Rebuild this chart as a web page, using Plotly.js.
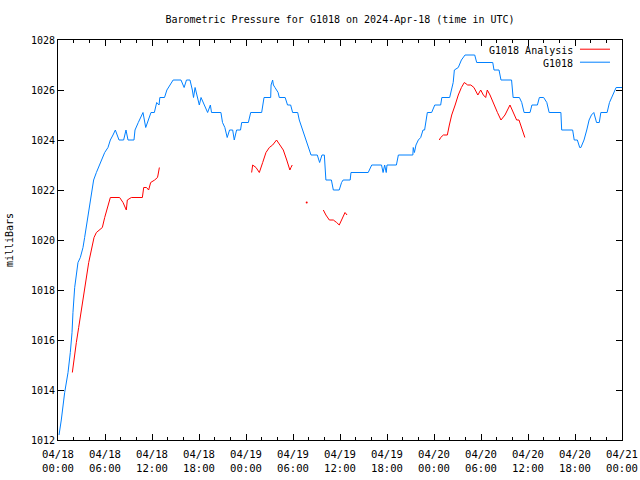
<!DOCTYPE html>
<html>
<head>
<meta charset="utf-8">
<script src="https://cdn.plot.ly/plotly-3.0.1.min.js"></script>
<style>html,body{margin:0;padding:0;background:#fff;}#chart{width:640px;height:480px;}</style>
</head>
<body>
<div id="chart"></div>
<script>
// Hours since 2024-04-18 00:00 UTC
var blueHours = [0.13,0.42,0.85,1.28,1.57,1.79,1.91,2.13,2.34,2.55,2.85,3.19,3.4,3.7,3.96,4.26,4.55,4.9,5.32,5.74,5.96,6.38,6.68,7.02,7.32,7.79,8.38,8.68,8.94,9.7,9.83,10.25,10.6,10.85,11.2,11.45,11.87,12.3,12.6,12.9,13.0,13.6,13.9,14.3,14.7,15.7,16.1,16.4,16.85,17.15,17.3,17.5,17.75,18.04,18.26,18.55,18.85,19.1,19.45,19.6,20.8,21.0,21.3,21.6,21.9,22.3,22.5,22.8,23.3,23.45,24.3,24.6,26.0,26.3,27.15,27.2,27.4,27.5,27.7,27.95,28.1,28.25,29.0,29.3,29.7,29.95,30.6,30.8,31.1,31.4,31.66,31.95,32.3,33.1,33.4,33.7,34.0,34.2,34.9,35.15,35.9,36.2,36.4,37.3,37.4,39.6,40.05,41.3,41.5,41.7,41.9,42.0,43.2,43.45,45.3,45.35,45.5,45.7,46.0,46.3,46.6,46.8,47.15,47.7,48.1,48.85,49.0,50.0,50.25,50.45,50.6,51.1,51.5,51.96,53.2,53.45,55.5,55.66,56.3,56.55,57.9,58.1,58.9,59.2,59.5,60.26,60.5,61.2,61.45,62.0,62.4,62.7,64.2,64.3,65.7,65.9,66.3,66.6,66.75,67.15,67.5,67.8,68.1,68.4,68.75,69.1,69.3,70.1,70.4,70.7,71.0,71.25,72.0];
var blueValues = [1012.2,1012.8,1013.9,1014.7,1015.5,1016.3,1017.1,1018.1,1018.6,1019.1,1019.3,1019.7,1020.1,1020.7,1021.3,1022.0,1022.4,1022.7,1023.0,1023.3,1023.5,1023.7,1024.0,1024.2,1024.4,1024.0,1024.0,1024.4,1024.0,1024.0,1024.4,1024.7,1024.9,1025.1,1024.5,1024.7,1025.1,1025.1,1025.5,1025.4,1025.7,1025.7,1026.0,1026.2,1026.4,1026.4,1026.1,1026.4,1026.4,1026.0,1025.7,1026.1,1025.8,1025.4,1025.7,1025.5,1025.3,1025.1,1025.4,1025.1,1025.1,1024.7,1024.5,1024.1,1024.4,1024.4,1024.0,1024.4,1024.4,1024.7,1024.7,1025.1,1025.1,1025.7,1025.7,1026.2,1026.4,1026.2,1026.1,1026.0,1025.9,1025.7,1025.7,1025.4,1025.4,1025.1,1025.1,1024.8,1024.5,1024.3,1024.0,1023.7,1023.4,1023.4,1023.1,1023.4,1023.4,1022.4,1022.4,1022.0,1022.0,1022.3,1022.4,1022.4,1022.7,1022.7,1023.0,1023.0,1022.7,1023.0,1022.7,1023.0,1023.0,1023.4,1023.4,1023.7,1023.5,1023.8,1024.0,1024.1,1024.4,1024.4,1025.1,1025.1,1025.4,1025.4,1025.7,1025.7,1026.1,1026.3,1026.8,1026.9,1027.2,1027.4,1027.4,1027.1,1027.1,1026.8,1026.8,1026.4,1026.4,1025.7,1025.7,1025.5,1025.1,1025.1,1025.4,1025.4,1025.7,1025.7,1025.5,1025.1,1025.1,1024.4,1024.4,1024.0,1024.0,1023.7,1023.7,1024.0,1024.4,1024.8,1025.0,1025.1,1024.7,1024.7,1025.1,1025.1,1025.5,1025.7,1025.9,1026.1,1026.1];

var redHours = [1.83,2.04,2.34,2.64,2.98,3.32,3.62,3.92,4.26,4.6,4.9,5.3,5.66,5.96,6.3,6.68,7.87,8.3,8.72,8.85,9.36,9.9,10.77,10.94,11.3,11.57,11.83,12.34,12.7,12.77,12.94,
  null,
  24.72,24.85,25.28,25.7,26.13,26.55,26.98,27.4,27.9,28.34,28.76,29.2,29.6,29.74,29.9,
  null,
  33.87,34.2,34.64,35.15,35.57,35.9,36.2,36.64,36.9,
  null,
  48.68,48.85,49.2,49.7,49.96,50.26,50.7,51.1,51.5,51.87,52.3,52.7,53.1,53.6,53.96,54.3,54.6,54.8,55.15,55.66,56.1,56.55,57.06,57.7,58.1,58.55,58.85,59.2,59.6];
var redValues = [1014.7,1015.3,1015.9,1016.5,1017.2,1017.9,1018.5,1019.1,1019.6,1020.1,1020.3,1020.4,1020.5,1020.9,1021.3,1021.7,1021.7,1021.5,1021.2,1021.6,1021.7,1021.7,1021.7,1022.1,1022.1,1022.0,1022.3,1022.4,1022.5,1022.6,1022.9,
  null,
  1022.7,1023.0,1022.9,1022.7,1023.1,1023.5,1023.7,1023.8,1024.0,1023.8,1023.6,1023.2,1022.8,1022.9,1023.0,
  null,
  1021.2,1021.0,1020.8,1020.8,1020.7,1020.6,1020.8,1021.1,1021.0,
  null,
  1024.0,1024.1,1024.2,1024.2,1024.6,1025.0,1025.4,1025.8,1026.1,1026.3,1026.2,1026.2,1026.1,1025.8,1026.0,1025.8,1025.7,1026.0,1025.8,1025.4,1025.1,1024.8,1025.0,1025.4,1025.1,1024.8,1024.8,1024.5,1024.1];

// isolated analysis sample
var redDotHours = [31.75];
var redDotValues = [1021.5];

var tickHours = [0,6,12,18,24,30,36,42,48,54,60,66,72];
var tickLabels = ["04/18<br>00:00","04/18<br>06:00","04/18<br>12:00","04/18<br>18:00","04/19<br>00:00","04/19<br>06:00","04/19<br>12:00","04/19<br>18:00","04/20<br>00:00","04/20<br>06:00","04/20<br>12:00","04/20<br>18:00","04/21<br>00:00"];
var yTicks = [1012,1014,1016,1018,1020,1022,1024,1026,1028];
var seriesNames = ['G1018 Analysis', 'G1018'];
var seriesColors = ['#ff0000', '#0080ff'];

var FONT = "DejaVu Sans Mono";

var traces = [
  {x: redHours, y: redValues, type: 'scatter', mode: 'lines', name: seriesNames[0],
   line: {color: seriesColors[0], width: 1}, connectgaps: false},
  {x: blueHours, y: blueValues, type: 'scatter', mode: 'lines', name: seriesNames[1],
   line: {color: seriesColors[1], width: 1}},
  {x: redDotHours, y: redDotValues, type: 'scatter', mode: 'markers', showlegend: false,
   marker: {color: seriesColors[0], size: 2}}
];

// gnuplot-style key: text right-aligned, sample line to the right
var keyRows = [0.975, 0.9425];
var annotations = seriesNames.map(function (n, i) {
  return {text: n, xref: 'paper', yref: 'paper', x: 0.9167, y: keyRows[i],
          xanchor: 'right', yanchor: 'middle', showarrow: false,
          font: {family: FONT, size: 10, color: '#000'}};
});
var shapes = seriesNames.map(function (n, i) {
  return {type: 'line', xref: 'paper', yref: 'paper', x0: 0.9255, x1: 0.9787,
          y0: keyRows[i] + 0.002, y1: keyRows[i] + 0.002,
          line: {color: seriesColors[i], width: 1}};
});

var layout = {
  width: 640, height: 480,
  margin: {l: 58, r: 18, t: 40, b: 40, pad: 0},
  paper_bgcolor: '#fff', plot_bgcolor: '#fff',
  font: {family: FONT, size: 10, color: '#000'},
  title: {text: 'Barometric Pressure for G1018 on 2024-Apr-18 (time in UTC)',
          font: {family: FONT, size: 10, color: '#000'},
          x: 0.5, xref: 'paper', y: 1 - 19/480, yref: 'container', yanchor: 'middle'},
  xaxis: {range: [0, 72], tickmode: 'array', tickvals: tickHours, ticktext: tickLabels,
          ticks: 'inside', ticklen: 6, tickcolor: '#000', tickwidth: 1,
          minor: {dtick: 2, ticks: 'inside', ticklen: 3, tickcolor: '#000', tickwidth: 1},
          showline: true, linecolor: '#000', linewidth: 1, mirror: 'ticks',
          showgrid: false, zeroline: false, fixedrange: true, ticklabelstandoff: 4,
          tickfont: {family: FONT, size: 10.6, color: '#000'}},
  yaxis: {range: [1012, 1028], tickmode: 'array', tickvals: yTicks,
          ticks: 'inside', ticklen: 6, tickcolor: '#000', tickwidth: 1,
          showline: true, linecolor: '#000', linewidth: 1, mirror: 'ticks',
          showgrid: false, zeroline: false, fixedrange: true,
          tickfont: {family: FONT, size: 10, color: '#000'},
          title: {text: 'milliBars', font: {family: FONT, size: 10, color: '#000'}, standoff: 15}},
  annotations: annotations,
  shapes: shapes,
  showlegend: false
};

Plotly.newPlot('chart', traces, layout, {staticPlot: true, displayModeBar: false});
</script>
</body>
</html>
